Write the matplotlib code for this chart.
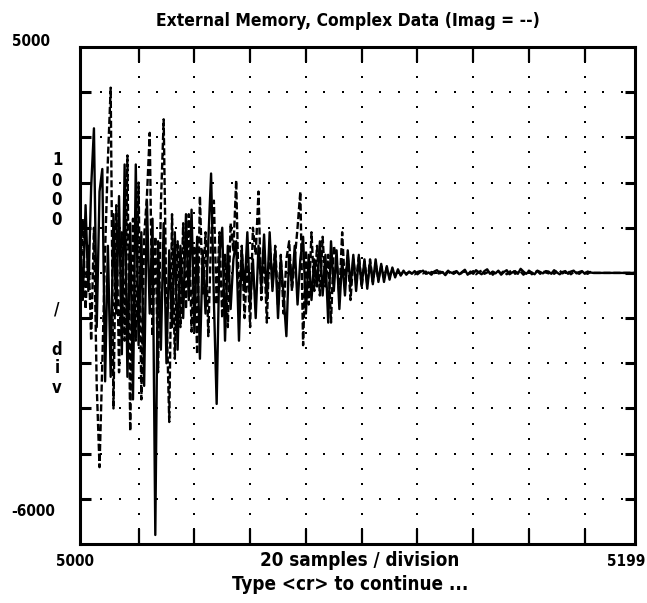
import numpy as np
import matplotlib.pyplot as plt

# samples 5000..5199, real part (solid) and imaginary part (dashed)
real_vals = [
    800, -600, 1500, -400, 1900, 3200, -1200, 1800, 2300, -2400,
    600, -2300, 1300, -900, 1700, -1800, 2400, -2300, 1100, -2800,
    2400, -1600, 900, -2500, 1600, -900, 1200, -5800, 700, -1700,
    1100, -2000, 500, -1200, 900, -1700, 600, -1000, 1300, -600,
    1400, -1300, 800, -1900, 500, -900, 700, 2200, -600, -2900,
    400, 1000, -1500, 600, -800, 300, 700, -1500, 500, -400,
    900, -700, 300, -1000, 600, -300, 850, -600, 900, -400,
    500, -1000, 300, -500, -1400, 400, -300, 600, -700, 300,
    800, -900, 400, -600, 300, -300, 700, -500, 400, -1100,
    700, -400, 500, -800, 300, -500, 500, -300, 400, -400,
    350, -300, 300, -350, 250, -250, 300, -200, 200, -200,
    150, -150, 120, -100, 80, -60, 50, -40, 30, -20,
    40, -30, 20, 50, -20, 10, -40, 30, 60, -10,
    20, -50, 30, 10, -20, 40, -30, 20, 70, -40,
    30, -20, 60, 10, -30, 40, 80, -20, 30, -10,
    50, -40, 20, 60, -30, 10, 40, -20, 90, 30,
    -20, 40, 10, -30, 50, 20, -10, 40, 30, -20,
    60, 10, -30, 20, 40, -20, 30, 50, -10, 20,
    40, -20, 30, 10, 0, 0, 0, 0, 0, 0,
    0, 0, 0, 0, 0, 0, 0, 0, 0, 0,
]
imag_vals = [
    -500, 1200, -800, 600, -1500, 1000, -2500, -4300, -2000, 500,
    2500, 4100, -3000, 1500, -2200, 900, -1500, 2600, -3500, 1200,
    -1500, 2000, -2800, 800, 1700, 3100, -1400, 800, -2200, 1500,
    3400, -800, -3300, 1300, -1900, 700, -1200, 1100, -800, 1300,
    -1300, 600, -1800, 1700, -500, 900, -1400, 800, 1600, -700,
    900, -1000, 400, -1200, 1100, 500, 2050, -800, 600, -1000,
    300, -1200, 1000, 400, 1800, -600, 500, -1100, 700, -300,
    600, -700, 400, -900, 300, 700, -400, 300, 1000, 1800,
    -1600, 500, -700, 900, -400, 600, -500, 800, -300, 400,
    -1100, 600, 300, -500, 900, -300, 400, -600, 300, -200,
    400, -300, 250, -250, 300, -200, 200, -150, 150, -100,
    120, -100, 80, -60, 50, -40, 30, -20, 20, -10,
    -30, 20, 40, -10, 30, -50, 20, 10, -40, 30,
    10, -20, 50, -30, 20, 30, -40, 10, 40, -20,
    -10, 40, -30, 20, 50, -20, 10, 60, -40, 20,
    30, -10, 40, -30, 20, 70, -20, 10, 30, -40,
    20, 50, -30, 10, 40, -20, 30, 10, -10, 40,
    -20, 30, 50, -10, 20, 40, -30, 20, 10, -20,
    30, 10, -20, 20, 0, 0, 0, 0, 0, 0,
    0, 0, 0, 0, 0, 0, 0, 0, 0, 0,
]
samples = np.arange(5000, 5200)

x_min, x_max = 5000, 5199
y_min, y_max = -6000, 5000
grid_x = [5021 + 20 * k for k in range(9)]
grid_y = list(range(-5000, 5000, 1000))

fig = plt.figure(figsize=(6.47, 6.03), dpi=100)
ax = fig.add_axes([80 / 647, 59 / 603, 555 / 647, 497 / 603])
ax.set_xlim(x_min, x_max)
ax.set_ylim(y_min, y_max)
ax.set_xticks([])
ax.set_yticks([])
for sp in ax.spines.values():
    sp.set_linewidth(2.2)

# dotted grid
dot_x, dot_y = [], []
ystep = 1000 / 3
for gx in grid_x:
    for yy in np.arange(y_min + ystep, y_max - ystep + 1, ystep):
        dot_x.append(gx)
        dot_y.append(yy)
xstep = 20 / 3
xs = np.arange(grid_x[0] - 3 * xstep, x_max - 3, xstep)
xs = xs[xs > x_min + 4]
for gy in grid_y:
    for xx in xs:
        dot_x.append(xx)
        dot_y.append(gy)
ax.scatter(dot_x, dot_y, s=4, marker='s', color='black', linewidths=0, zorder=2)

# tick marks on the frame
ax.vlines(grid_x, y_max - ystep, y_max, color='black', lw=1.6)
ax.vlines(grid_x, y_min, y_min + ystep, color='black', lw=1.6)
ax.hlines(grid_y, x_min, x_min + 3.8, color='black', lw=2.2)
ax.hlines(grid_y, x_max - 3.5, x_max, color='black', lw=2.2)

ax.plot(samples, real_vals, color='black', lw=1.7, zorder=3)
ax.plot(samples, imag_vals, color='black', lw=1.7, dashes=(3, 1.2), zorder=3)

# labels placed in figure pixels (from top)
def put(x, y, s, size=11, **kw):
    fig.text(x / 647, 1 - y / 603, s, ha='center', va='center', fontsize=size,
             family='DejaVu Sans', fontstretch='condensed', fontweight='bold', **kw)

put(348, 21, 'External Memory, Complex Data (Imag = --)', 12.5)
put(31, 42, '5000', 11)
put(33, 512, '-6000', 11)
put(75, 561, '5000', 11)
put(626, 561, '5199', 11)
put(360, 561, '20 samples / division', 13.5)
put(350, 584, 'Type <cr> to continue ...', 13.5)
for ch, yy in zip('1000/div', [160, 181, 200, 220, 310, 350, 368, 388]):
    put(57, yy, ch, 12)

fig.savefig('out.png', dpi=100)
